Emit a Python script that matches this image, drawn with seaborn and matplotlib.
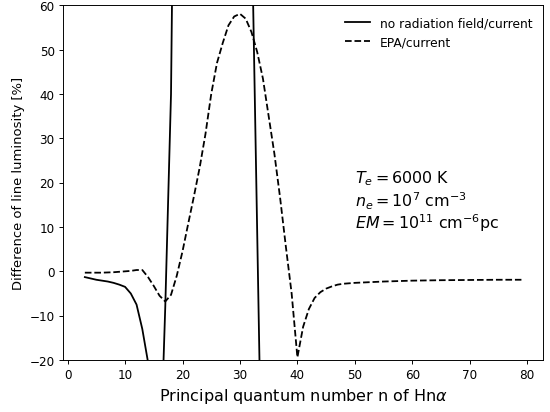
import numpy as np
import pandas as pd
import seaborn as sns
import matplotlib
matplotlib.use("Agg")
import matplotlib.pyplot as plt

# no radiation field / current  (values outside the window are estimates)
n_norad = [3, 4, 5, 6, 7, 8, 9, 10, 11, 12, 13, 14, 15, 16, 17, 18, 19, 20, 25, 30, 31, 32, 33, 34, 35]
diff_norad = [-1.3, -1.6, -1.9, -2.1, -2.3, -2.6, -3.0, -3.5, -5.0, -7.5, -13.0, -20.5, -60.0, -48.0,
              -8.0, 40.0, 160.0, 230.0, 300.0, 250.0, 170.0, 82.0, 9.0, -64.0, -140.0]

# EPA / current
n_epa = [3, 4, 5, 6, 7, 8, 9, 10, 11, 12, 13, 14, 15, 16, 17, 18, 19, 20, 21, 22, 23, 24, 25,
         26, 27, 28, 29, 30, 31, 32, 33, 34, 35, 36, 37, 38, 39, 40, 41, 42, 43, 44, 45, 46,
         47, 48, 49, 50, 55, 60, 65, 70, 75, 79]
diff_epa = [-0.3, -0.3, -0.3, -0.3, -0.25, -0.2, -0.1, 0.0, 0.1, 0.3, 0.3, -1.3, -3.3, -5.5, -6.8,
            -5.3, -1.0, 4.5, 10.8, 17.0, 23.5, 31.0, 40.0, 47.0, 51.5, 55.5, 57.5, 58.1, 57.0,
            54.0, 49.5, 43.5, 35.0, 26.5, 16.5, 5.5, -5.0, -19.4, -12.5, -8.5, -6.0, -4.7, -3.9,
            -3.4, -3.0, -2.8, -2.7, -2.6, -2.3, -2.1, -2.0, -1.95, -1.9, -1.9]

df_norad = pd.DataFrame({"n": n_norad, "diff": diff_norad})
df_epa = pd.DataFrame({"n": n_epa, "diff": diff_epa})

fig, ax = plt.subplots(figsize=(6.4, 4.8), dpi=86)
fig.subplots_adjust(left=0.1145, right=0.987, bottom=0.126, top=0.985)

sns.lineplot(data=df_norad, x="n", y="diff", color="k", linewidth=1.5,
             label="no radiation field/current", ax=ax)
sns.lineplot(data=df_epa, x="n", y="diff", color="k", linewidth=1.5, linestyle="--",
             label="EPA/current", ax=ax)

ax.set_xlim(-0.8, 82.8)
ax.set_ylim(-20, 60)
ax.set_xticks(range(0, 81, 10))
ax.set_xlabel(r"Principal quantum number n of Hn$\alpha$", fontsize=13.4)
ax.set_ylabel("Difference of line luminosity [%]", fontsize=11)
ax.legend(loc="upper right", frameon=False, fontsize=10.3)

ax.text(0.608, 0.501, r"$T_e = 6000$ K", transform=ax.transAxes, fontsize=13.3, va="baseline")
ax.text(0.608, 0.434, r"$n_e = 10^7$ cm$^{-3}$", transform=ax.transAxes, fontsize=13.3, va="baseline")
ax.text(0.608, 0.372, r"$EM = 10^{11}$ cm$^{-6}$pc", transform=ax.transAxes, fontsize=13.3, va="baseline")

plt.savefig("out.png", dpi=86)
